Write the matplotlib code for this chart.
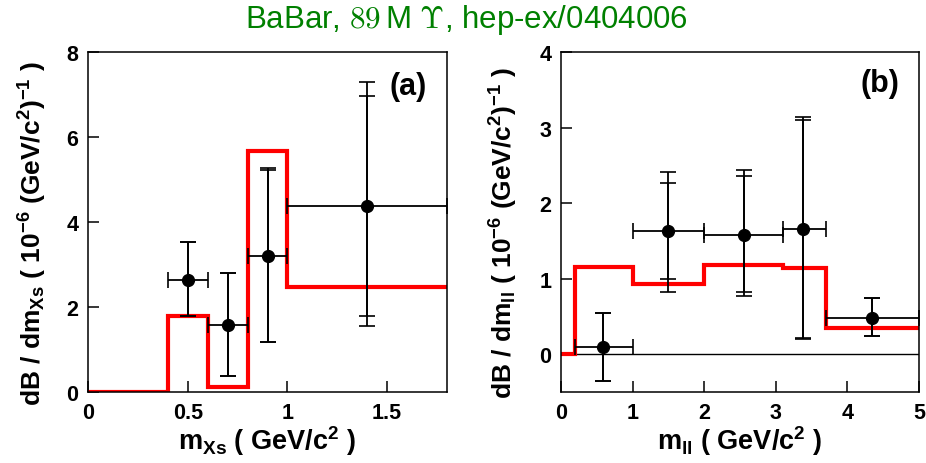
import matplotlib
matplotlib.use("Agg")
import matplotlib.pyplot as plt
import numpy as np

plt.rcParams['font.family'] = ['Liberation Sans', 'DejaVu Sans']
plt.rcParams['font.weight'] = 'bold'
plt.rcParams['mathtext.fontset'] = 'custom'
plt.rcParams['mathtext.rm'] = 'Liberation Sans:bold'
plt.rcParams['mathtext.it'] = 'Liberation Sans:bold'
plt.rcParams['mathtext.bf'] = 'Liberation Sans:bold'
plt.rcParams['mathtext.default'] = 'regular'

# ---- panel (a): dB/dm_Xs ----
a_x = [0.5, 0.7, 0.9, 1.4]
a_xlo = [0.4, 0.6, 0.8, 1.0]
a_xhi = [0.6, 0.8, 1.0, 1.8]
a_y = [2.64, 1.58, 3.21, 4.37]
a_tot_hi = [3.52, 2.80, 5.26, 7.30]
a_tot_lo = [1.78, 0.37, 1.17, 1.55]
a_stat_hi = [3.52, 2.80, 5.22, 6.96]
a_stat_lo = [1.78, 0.37, 1.17, 1.78]
a_edges = [0.0, 0.4, 0.6, 0.8, 1.0, 1.8]
a_model = [0.0, 1.80, 0.12, 5.68, 2.46]

# ---- panel (b): dB/dm_ll ----
b_x = [0.59, 1.5, 2.55, 3.38, 4.34]
b_xlo = [0.2, 1.0, 2.0, 3.1, 3.7]
b_xhi = [1.0, 2.0, 3.1, 3.7, 5.0]
b_y = [0.10, 1.63, 1.58, 1.66, 0.48]
b_tot_hi = [0.55, 2.41, 2.44, 3.14, 0.74]
b_tot_lo = [-0.36, 0.82, 0.77, 0.20, 0.24]
b_stat_hi = [0.55, 2.27, 2.36, 3.10, 0.74]
b_stat_lo = [-0.36, 1.00, 0.82, 0.22, 0.24]
b_edges = [0.0, 0.2, 1.0, 2.0, 3.1, 3.7, 5.0]
b_model = [0.0, 1.15, 0.925, 1.18, 1.145, 0.35]

fig = plt.figure(figsize=(9.26, 4.64), dpi=100)
axa = fig.add_axes([88/926, 71/464, 359/926, 340/464])
axb = fig.add_axes([561/926, 71/464, 358/926, 340/464])

def draw(ax, x, xlo, xhi, y, thi, tlo, shi, slo, edges, model):
    ax.stairs(model, edges, baseline=None, color='#ff0000', lw=3.0, zorder=2)
    x = np.array(x); y = np.array(y)
    xerr = [x - np.array(xlo), np.array(xhi) - x]
    yerr_t = [y - np.array(tlo), np.array(thi) - y]
    yerr_s = [y - np.array(slo), np.array(shi) - y]
    ax.errorbar(x, y, xerr=xerr, yerr=yerr_t, fmt='o', color='black', ms=8.5,
                elinewidth=1.3, capsize=5.5, capthick=1.2, zorder=4)
    ax.errorbar(x, y, yerr=yerr_s, fmt='none', ecolor='black',
                elinewidth=1.3, capsize=5.5, capthick=1.2, zorder=4)

draw(axa, a_x, a_xlo, a_xhi, a_y, a_tot_hi, a_tot_lo, a_stat_hi, a_stat_lo, a_edges, a_model)
draw(axb, b_x, b_xlo, b_xhi, b_y, b_tot_hi, b_tot_lo, b_stat_hi, b_stat_lo, b_edges, b_model)
axb.axhline(0, color='black', lw=1.0, zorder=1)

axa.set_xlim(0, 1.8); axa.set_ylim(0, 8)
axa.set_xticks([0, 0.5, 1, 1.5]); axa.set_xticklabels(['0', '0.5', '1', '1.5'])
axa.set_yticks([0, 2, 4, 6, 8])
axb.set_xlim(0, 5); axb.set_ylim(-0.5, 4)
axb.set_xticks([0, 1, 2, 3, 4, 5]); axb.set_yticks([0, 1, 2, 3, 4])

for ax in (axa, axb):
    ax.tick_params(direction='in', length=8, width=1.1, labelsize=15.5, pad=7)
    for s in ax.spines.values():
        s.set_linewidth(1.1)
    for lab in ax.get_xticklabels() + ax.get_yticklabels():
        lab.set_fontweight('bold')

axa.set_xlabel(r'm$_{Xs}$ ( GeV/c$^{2}$ )', fontsize=19.5, fontweight='bold')
axb.set_xlabel(r'm$_{ll}$ ( GeV/c$^{2}$ )', fontsize=19.5, fontweight='bold')
axa.set_ylabel(r'dB / dm$_{Xs}$ ( 10$^{-6}$ (GeV/c$^{2}$)$^{-1}$ )', fontsize=19, fontweight='bold')
axb.set_ylabel(r'dB / dm$_{ll}$ ( 10$^{-6}$ (GeV/c$^{2}$)$^{-1}$ )', fontsize=19, fontweight='bold')
axa.xaxis.set_label_coords(0.5, -0.092)
axb.xaxis.set_label_coords(0.5, -0.092)
axa.yaxis.set_label_coords(-0.11, 0.47)
axb.yaxis.set_label_coords(-0.115, 0.47)

axa.text(0.891, 0.90, '(a)', transform=axa.transAxes, fontsize=22, fontweight='bold',
         ha='center', va='center')
axb.text(0.891, 0.91, '(b)', transform=axb.transAxes, fontsize=22, fontweight='bold',
         ha='center', va='center')

fig.text(0.504, 0.957, r'BaBar, $\mathrm{89}\,$M $\mathrm{\Upsilon}$, hep-ex/0404006',
         color='#008000', fontsize=22.5, fontweight='normal', ha='center', va='center',
         math_fontfamily='cm')

fig.savefig('out.png', dpi=100)
